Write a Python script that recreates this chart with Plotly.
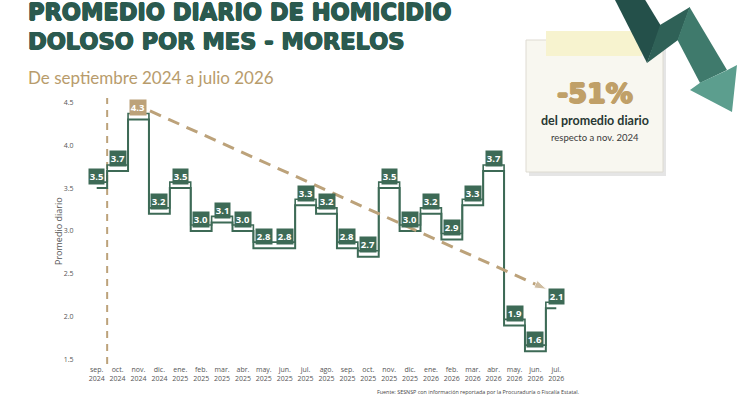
import plotly.graph_objects as go

# ---------------- data ----------------
months = ["sep.", "oct.", "nov.", "dic.", "ene.", "feb.", "mar.", "abr.", "may.", "jun.", "jul.", "ago.",
          "sep.", "oct.", "nov.", "dic.", "ene.", "feb.", "mar.", "abr.", "may.", "jun.", "jul."]
years = ["2024"] * 4 + ["2025"] * 12 + ["2026"] * 7
values = [3.5, 3.7, 4.3, 3.2, 3.5, 3.0, 3.1, 3.0, 2.8, 2.8, 3.3, 3.2,
          2.8, 2.7, 3.5, 3.0, 3.2, 2.9, 3.3, 3.7, 1.9, 1.6, 2.1]
y_ticks = [1.5, 2.0, 2.5, 3.0, 3.5, 4.0, 4.5]
ref_month = "nov. 2024"
pct_change = "-51%"

tick_text = [f"{m}<br>{y}" for m, y in zip(months, years)]
xs = list(range(len(values)))
labels_full = [f"{m} {y}" for m, y in zip(months, years)]
ref_idx = labels_full.index(ref_month)
last_idx = len(values) - 1

# ---------------- styling ----------------
W, H = 744, 412
ML, MR, MT, MB = 80, 171, 98, 48
PW, PH = W - ML - MR, H - MT - MB
GREEN = "#3d6a56"
TAN = "#bca27a"
TITLE = "#2b5a4f"


def px(x):
    return (x - ML) / PW


def py(y):
    return (H - MB - y) / PH


def path(points):
    s = "M " + " L ".join(f"{px(a):.5f},{py(b):.5f}" for a, b in points)
    return s + " Z"


def heavy(color, w=0.6):
    return (f"{w}px 0 0 {color}, -{w}px 0 0 {color}, 0 {w}px 0 {color}, 0 -{w}px 0 {color}")


fig = go.Figure()

# double step line (upper thin rail + main line)
fig.add_trace(go.Scatter(x=xs, y=[v + 0.07 for v in values], mode="lines", line_shape="hvh",
                         line=dict(color=GREEN, width=1.6), hoverinfo="skip", showlegend=False))
fig.add_trace(go.Scatter(x=xs, y=values, mode="lines", line_shape="hvh",
                         line=dict(color=GREEN, width=2), showlegend=False))

# dashed trend arrow from reference month to last month
fig.add_trace(go.Scatter(
    x=[ref_idx + 0.55, last_idx - 0.45],
    y=[values[ref_idx] + 0.1, values[last_idx] + 0.22],
    mode="lines+markers",
    line=dict(color=TAN, width=3, dash="12px,8px"),
    marker=dict(symbol="arrow", angleref="previous", size=[0, 13], color=TAN),
    hoverinfo="skip", showlegend=False))

annotations = []
for i, v in enumerate(values):
    annotations.append(dict(
        x=i, y=v, xref="x", yref="y", text=f"<b>{v:.1f}</b>", showarrow=False,
        xanchor="center", yanchor="bottom", yshift=3.5,
        bgcolor=TAN if i == ref_idx else GREEN, borderpad=0.8,
        font=dict(family="Open Sans", size=9.5, color="white")))

# titles
annotations += [
    dict(x=px(26), y=py(27), xref="paper", yref="paper", xanchor="left", yanchor="middle",
         text="<b>PROMEDIO DIARIO DE HOMICIDIO<br>DOLOSO POR MES - MORELOS</b>", showarrow=False,
         align="left",
         font=dict(family="DejaVu Sans", size=22.5, color=TITLE, shadow=heavy(TITLE, 0.7))),
    dict(x=px(26), y=py(77), xref="paper", yref="paper", xanchor="left", yanchor="middle",
         text="De septiembre 2024 a julio 2026", showarrow=False,
         font=dict(family="Lato", size=17, color="#b89c6c")),
    # y axis title
    dict(x=px(58), y=py(231), xref="paper", yref="paper", xanchor="center", yanchor="middle",
         text="Promedio diario", textangle=-90, showarrow=False,
         font=dict(family="Open Sans", size=9, color="#555555")),
    # callout text
    dict(x=px(595), y=py(94), xref="paper", yref="paper", xanchor="center", yanchor="middle",
         text="<b>" + pct_change + "</b>", showarrow=False,
         font=dict(family="DejaVu Sans", size=27, color="#c0a068", shadow=heavy("#c0a068", 1.0))),
    dict(x=px(595), y=py(120.5), xref="paper", yref="paper", xanchor="center", yanchor="middle",
         text="<b>del promedio diario</b>", showarrow=False,
         font=dict(family="Lato", size=12.5, color="#283833")),
    dict(x=px(595), y=py(137.5), xref="paper", yref="paper", xanchor="center", yanchor="middle",
         text=f"respecto a {ref_month}", showarrow=False,
         font=dict(family="Lato", size=9.5, color="#3a3a3a")),
    # source
    dict(x=px(478), y=py(392), xref="paper", yref="paper", xanchor="center", yanchor="middle",
         text="Fuente: SESNSP con información reportada por la Procuraduría o Fiscalía Estatal.",
         showarrow=False, font=dict(family="Open Sans", size=5.4, color="#444444")),
]

shapes = [
    # vertical dashed marker between first two months
    dict(type="line", xref="x", yref="paper", x0=0.5, x1=0.5, y0=0, y1=1,
         line=dict(color=TAN, width=2, dash="7px,6px"), layer="below"),
    # callout shadow + note
    dict(type="rect", xref="paper", yref="paper", x0=px(529), x1=px(666), y0=py(44), y1=py(176),
         fillcolor="rgba(0,0,0,0.10)", line=dict(width=0), layer="below"),
    dict(type="rect", xref="paper", yref="paper", x0=px(526), x1=px(663), y0=py(40), y1=py(172),
         fillcolor="#f8f7f0", line=dict(color="#dedbd2", width=1), layer="below"),
    dict(type="rect", xref="paper", yref="paper", x0=px(546), x1=px(642), y0=py(31), y1=py(56),
         fillcolor="#f7f3cf", line=dict(width=0), layer="below"),
    # zigzag arrow (approximate gradient with pieces)
    dict(type="path", xref="paper", yref="paper", layer="above", line=dict(width=0),
         fillcolor="#24504a", path=path([(614, -2), (644, -2), (661, 26), (647, 63)])),
    dict(type="path", xref="paper", yref="paper", layer="above", line=dict(width=0),
         fillcolor="#2f6157", path=path([(647, 63), (660, 25), (690, 7), (678, 40)])),
    dict(type="path", xref="paper", yref="paper", layer="above", line=dict(width=0),
         fillcolor="#3f7a6c", path=path([(689.5, 7), (727, 70), (700, 83), (677.5, 40)])),
    dict(type="path", xref="paper", yref="paper", layer="above", line=dict(width=0),
         fillcolor="#5c9e8e", path=path([(726.5, 70.5), (737, 65), (732, 112), (690, 90), (700.5, 82.5)])),
]

fig.update_layout(
    width=W, height=H,
    margin=dict(l=ML, r=MR, t=MT, b=MB, autoexpand=False),
    paper_bgcolor="white", plot_bgcolor="white",
    showlegend=False,
    annotations=annotations, shapes=shapes,
    xaxis=dict(range=[-0.8, len(values) - 1 + 0.8], tickmode="array", tickvals=xs, ticktext=tick_text,
               showgrid=False, zeroline=False, showline=False, automargin=False,
               tickfont=dict(family="Open Sans", size=7, color="#555555")),
    yaxis=dict(range=[1.45, 4.55], tickmode="array", tickvals=y_ticks,
               ticktext=[f"{t:.1f}" for t in y_ticks],
               showgrid=False, zeroline=False, showline=False, automargin=False,
               ticks="outside", ticklen=4, tickcolor="rgba(0,0,0,0)",
               tickfont=dict(family="Open Sans", size=7, color="#555555")),
)

fig.write_html("out.html", config={"displayModeBar": False},
               post_script="document.body.style.margin='0';")
